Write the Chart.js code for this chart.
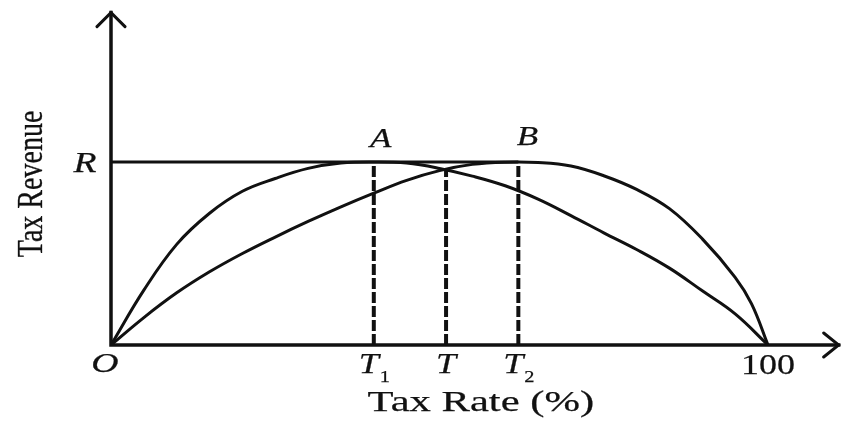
<!DOCTYPE html>
<html>
<head>
<meta charset="utf-8">
<script src="https://cdn.jsdelivr.net/npm/chart.js@4"></script>
<style>
  html, body { margin: 0; padding: 0; background: #fff; }
  #wrap { width: 841px; height: 424px; }
</style>
</head>
<body>
<div id="wrap"><canvas id="laffer"></canvas></div>
<script>
// curve peaking at T1 (point A)
const rateA = [0, 5, 10, 15, 20, 25, 30, 35, 40, 45, 50, 55, 60, 65, 70, 75, 80, 85, 90, 95, 100];
const revenueA = [0, 30, 55, 72, 84, 91, 96.5, 99.4, 100, 99.4, 96.5, 92.3, 87, 79.7, 70.7, 61.3, 52.2, 42, 29.6, 17, 0];

// curve peaking at T2 (point B)
const rateB = [0, 5, 10, 15, 20, 25, 30, 35, 40, 45, 50, 55, 60, 65, 70, 75, 80, 85, 90, 95, 97.5, 100];
const revenueB = [0, 15, 28.5, 40, 50, 59, 67.5, 75.5, 83, 90, 95.3, 98.7, 99.9, 99.7, 97.8, 92.5, 85, 74.5, 58, 37, 22.5, 0];

const revenueR = 100;
const markNames = ["T", "T", "T"];
const markSubs = ["1", "", "2"];
const markRates = [40, 51, 62];
const markTops = [100, 96, 100];
const xMax = 110;
const yMax = 180;

const SERIF = "'Liberation Serif', 'Times New Roman', Times, serif";

const pts = (xs, ys) => xs.map((x, i) => ({ x: x, y: ys[i] }));

const datasets = [
  { data: pts(rateA, revenueA), borderWidth: 3, tension: 0.4 },
  { data: pts(rateB, revenueB), borderWidth: 3, tension: 0.4 },
  { data: [{ x: 0, y: revenueR }, { x: markRates[2], y: revenueR }], borderWidth: 3 }
];
markRates.forEach((r, i) => {
  datasets.push({ data: [{ x: r, y: 0 }, { x: r, y: markTops[i] }], borderWidth: 4, borderDash: [11, 3] });
});
datasets.forEach(d => {
  d.borderColor = "#111";
  d.pointRadius = 0;
  d.fill = false;
});

function text(ctx, str, x, y, size, italic, sx, align) {
  ctx.save();
  ctx.translate(x, y);
  ctx.scale(sx, 1);
  ctx.font = (italic ? "italic " : "") + size + "px " + SERIF;
  ctx.textAlign = align || "center";
  ctx.textBaseline = "alphabetic";
  ctx.fillStyle = "#111";
  ctx.strokeStyle = "#111";
  ctx.lineWidth = 0.25;
  ctx.fillText(str, 0, 0);
  ctx.strokeText(str, 0, 0);
  ctx.restore();
}

const diagram = {
  id: "diagram",
  afterDatasetsDraw(chart) {
    const ctx = chart.ctx;
    const xs = chart.scales.x, ys = chart.scales.y;
    const x0 = xs.getPixelForValue(0), y0 = ys.getPixelForValue(0);
    const xEnd = xs.getPixelForValue(xMax) + 5;
    const yEnd = ys.getPixelForValue(yMax) - 3;

    ctx.save();
    ctx.strokeStyle = "#111";
    ctx.lineWidth = 3.5;
    ctx.lineCap = "square";
    ctx.beginPath();
    ctx.moveTo(x0, y0); ctx.lineTo(x0, yEnd);
    ctx.moveTo(x0, y0); ctx.lineTo(xEnd, y0);
    ctx.stroke();
    ctx.lineWidth = 3;
    ctx.lineCap = "round";
    ctx.beginPath();
    ctx.moveTo(x0 - 14, yEnd + 14); ctx.lineTo(x0, yEnd); ctx.lineTo(x0 + 14, yEnd + 14);
    ctx.moveTo(xEnd - 15, y0 - 12); ctx.lineTo(xEnd, y0); ctx.lineTo(xEnd - 15, y0 + 12);
    ctx.stroke();
    ctx.restore();

    // point labels
    const yR = ys.getPixelForValue(revenueR);
    text(ctx, "R", x0 - 26, yR + 10, 29, true, 1.3);
    text(ctx, "A", xs.getPixelForValue(markRates[0]) + 7, yR - 15, 28, true, 1.25);
    text(ctx, "B", xs.getPixelForValue(markRates[2]) + 9, yR - 17, 28, true, 1.25);
    text(ctx, "O", x0 - 6, y0 + 27, 28, true, 1.35);

    // tick labels on x axis
    markRates.forEach((r, i) => {
      const px = xs.getPixelForValue(r);
      const shift = markSubs[i] ? -5 : 0;
      text(ctx, markNames[i], px + shift, y0 + 28, 30, true, 1.2);
      if (markSubs[i]) text(ctx, markSubs[i], px + 11, y0 + 37, 17, false, 1.2);
    });
    text(ctx, "100", xs.getPixelForValue(100), y0 + 29, 30, false, 1.2);

    // axis titles
    text(ctx, "Tax Rate (%)", (x0 + xEnd) / 2 + 6, y0 + 66, 30, false, 1.42);
    ctx.save();
    ctx.translate(42, ys.getPixelForValue(88));
    ctx.rotate(-Math.PI / 2);
    ctx.scale(1, 1.3);
    ctx.font = "28px " + SERIF;
    ctx.textAlign = "center";
    ctx.fillStyle = "#111";
    ctx.strokeStyle = "#111";
    ctx.lineWidth = 0.25;
    ctx.fillText("Tax Revenue", 0, 0);
    ctx.strokeText("Tax Revenue", 0, 0);
    ctx.restore();
  }
};

new Chart(document.getElementById("laffer"), {
  type: "line",
  data: { datasets: datasets },
  options: {
    responsive: true,
    maintainAspectRatio: false,
    animation: false,
    layout: { padding: { left: 111, right: 7.3, top: 15.6, bottom: 79 } },
    plugins: { legend: { display: false }, tooltip: { enabled: false } },
    scales: {
      x: { type: "linear", min: 0, max: xMax, display: false },
      y: { type: "linear", min: 0, max: yMax, display: false }
    }
  },
  plugins: [diagram]
});
</script>
</body>
</html>
